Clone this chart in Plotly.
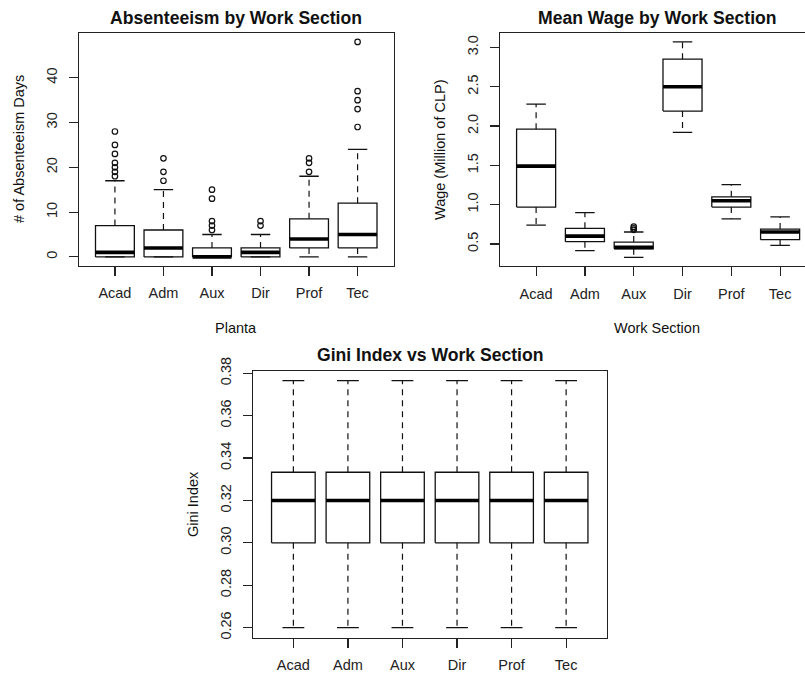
import plotly.graph_objects as go

# ---------------- data ----------------
categories = ["Acad", "Adm", "Aux", "Dir", "Prof", "Tec"]

abs_lower = [0, 0, 0, 0, 0, 0]
abs_q1 = [0, 0, 0, 0, 2, 2]
abs_median = [1, 2, 0, 1, 4, 5]
abs_q3 = [7, 6, 2, 2, 8.5, 12]
abs_upper = [17, 15, 5, 5, 18, 24]
abs_outliers = [[18, 19, 20, 21, 23, 25, 28], [17, 19, 22], [6, 7, 8, 13, 15],
                [7, 8], [19, 21, 22], [29, 33, 35, 37, 48]]
abs_ticks = [0, 10, 20, 30, 40]

wage_lower = [0.74, 0.415, 0.33, 1.92, 0.82, 0.483]
wage_q1 = [0.97, 0.53, 0.44, 2.19, 0.97, 0.555]
wage_median = [1.49, 0.60, 0.457, 2.50, 1.05, 0.653]
wage_q3 = [1.96, 0.70, 0.525, 2.85, 1.10, 0.69]
wage_upper = [2.28, 0.90, 0.653, 3.07, 1.255, 0.844]
wage_outliers = [[], [], [0.68, 0.70, 0.72], [], [], []]
wage_ticks = [0.5, 1.0, 1.5, 2.0, 2.5, 3.0]
wage_ticklabels = ["0.5", "1.0", "1.5", "2.0", "2.5", "3.0"]

gini_lower = [0.26, 0.26, 0.26, 0.26, 0.26, 0.26]
gini_q1 = [0.30, 0.30, 0.30, 0.30, 0.30, 0.30]
gini_median = [0.320, 0.320, 0.320, 0.320, 0.320, 0.320]
gini_q3 = [0.3333, 0.3333, 0.3333, 0.3333, 0.3333, 0.3333]
gini_upper = [0.3765, 0.3765, 0.3765, 0.3765, 0.3765, 0.3765]
gini_outliers = [[], [], [], [], [], []]
gini_ticks = [0.26, 0.28, 0.30, 0.32, 0.34, 0.36, 0.38]
gini_ticklabels = ["0.26", "0.28", "0.30", "0.32", "0.34", "0.36", "0.38"]

# ---------------- styling ----------------
W, H = 805, 673
FONT = "Liberation Sans, Arial, sans-serif"
INK = "#111111"
BOXW = 0.4      # half box width (boxwex 0.8)
STAPLE = 0.2    # half staple width
DASH = "6px,5px"

fig = go.Figure()


def add_boxplot(xa, ya, lower, q1, med, q3, upper, outliers):
    bx, by, mx, my, wx, wy, sx, sy, ox, oy = [], [], [], [], [], [], [], [], [], []
    for i in range(len(categories)):
        p = i + 1
        bx += [p - BOXW, p + BOXW, p + BOXW, p - BOXW, p - BOXW, None]
        by += [q1[i], q1[i], q3[i], q3[i], q1[i], None]
        mx += [p - BOXW, p + BOXW, None]
        my += [med[i], med[i], None]
        wx += [p, p, None, p, p, None]
        wy += [q3[i], upper[i], None, q1[i], lower[i], None]
        sx += [p - STAPLE, p + STAPLE, None, p - STAPLE, p + STAPLE, None]
        sy += [upper[i], upper[i], None, lower[i], lower[i], None]
        for v in outliers[i]:
            ox.append(p)
            oy.append(v)
    common = dict(xaxis=xa, yaxis=ya, showlegend=False, hoverinfo="skip")
    fig.add_trace(go.Scatter(x=wx, y=wy, mode="lines",
                             line=dict(color=INK, width=1.2, dash=DASH), **common))
    fig.add_trace(go.Scatter(x=sx, y=sy, mode="lines",
                             line=dict(color=INK, width=1.3), **common))
    fig.add_trace(go.Scatter(x=bx, y=by, mode="lines",
                             line=dict(color=INK, width=1.3), **common))
    fig.add_trace(go.Scatter(x=mx, y=my, mode="lines",
                             line=dict(color="#000000", width=3.6), **common))
    if ox:
        fig.add_trace(go.Scatter(x=ox, y=oy, mode="markers",
                                 marker=dict(symbol="circle-open", size=5.5,
                                             color=INK, line=dict(width=1.2)),
                                 **common))


add_boxplot("x", "y", abs_lower, abs_q1, abs_median, abs_q3, abs_upper, abs_outliers)
add_boxplot("x2", "y2", wage_lower, wage_q1, wage_median, wage_q3, wage_upper, wage_outliers)
add_boxplot("x3", "y3", gini_lower, gini_q1, gini_median, gini_q3, gini_upper, gini_outliers)


def yr(vals):
    lo = min(vals)
    hi = max(vals)
    pad = (hi - lo) * 0.04
    return [lo - pad, hi + pad]


abs_all = abs_lower + abs_upper + [v for o in abs_outliers for v in o]
wage_all = wage_lower + wage_upper + [v for o in wage_outliers for v in o]
gini_all = gini_lower + gini_upper

tickfont = dict(family=FONT, size=14.5, color="#222222")
axis_common = dict(showgrid=False, zeroline=False, showline=True, linecolor="#222222",
                   linewidth=1.2, ticks="outside", ticklen=9, tickwidth=1.2,
                   tickcolor="#222222", tickfont=tickfont, fixedrange=True,
                   automargin=False)

positions = list(range(1, len(categories) + 1))

# panel pixel boxes
p1 = dict(l=79, r=393.5, t=33.3, b=265.5)
p2 = dict(l=500, r=805, t=33.3, b=266)
p3 = dict(l=253, r=606.5, t=370.8, b=637.5)


def xd(p):
    return [p["l"] / W, min(p["r"] / W, 1.0)]


def ydm(p):
    return [1 - p["b"] / H, 1 - p["t"] / H]


# panel 2 is clipped on the right in the reference: full range would end at 6.74
p2_unit = (780 - 536) / 5.0
p2_right = 0.26 + (p2["r"] - p2["l"]) / p2_unit

XSO = 5   # x tick label standoff
YSO = 6   # y tick label standoff

fig.update_layout(
    width=W, height=H,
    margin=dict(l=0, r=0, t=0, b=0, autoexpand=False),
    paper_bgcolor="white", plot_bgcolor="white",
    font=dict(family=FONT, color="#222222"),
    xaxis=dict(domain=xd(p1), range=[0.26, 6.74], tickvals=positions, ticktext=categories,
               mirror=True, anchor="y", ticklabelstandoff=XSO, **axis_common),
    yaxis=dict(domain=ydm(p1), range=yr(abs_all), tickvals=abs_ticks, tickangle=-90,
               mirror=True, anchor="x", ticklabelstandoff=YSO, **axis_common),
    xaxis2=dict(domain=xd(p2), range=[0.26, p2_right], tickvals=positions, ticktext=categories,
                mirror=True, anchor="y2", ticklabelstandoff=XSO, **axis_common),
    yaxis2=dict(domain=ydm(p2), range=yr(wage_all), tickvals=wage_ticks,
                ticktext=wage_ticklabels, tickangle=-90, mirror=False, anchor="x2",
                ticklabelstandoff=YSO, **axis_common),
    xaxis3=dict(domain=xd(p3), range=[0.26, 6.74], tickvals=positions, ticktext=categories,
                mirror=True, anchor="y3", ticklabelstandoff=XSO, **axis_common),
    yaxis3=dict(domain=ydm(p3), range=yr(gini_all), tickvals=gini_ticks,
                ticktext=gini_ticklabels, tickangle=-90, mirror=True, anchor="x3",
                ticklabelstandoff=YSO, **axis_common),
)


def ann(text, x, y, size=14.5, bold=False, angle=0):
    fig.add_annotation(text=("<b>%s</b>" % text) if bold else text,
                       x=x / W, y=1 - y / H, xref="paper", yref="paper",
                       showarrow=False, textangle=angle, xanchor="center", yanchor="middle",
                       font=dict(family=FONT, size=size, color="#111111"))


ann("Absenteeism by Work Section", 236, 18, size=17.6, bold=True)
ann("Mean Wage by Work Section", 657, 18, size=17.6, bold=True)
ann("Gini Index vs Work Section", 430, 355, size=17.6, bold=True)
ann("# of Absenteeism Days", 19, 149, angle=-90)
ann("Planta", 236, 328)
ann("Wage (Million of CLP)", 440, 150, angle=-90)
ann("Work Section", 657, 328)
ann("Gini Index", 193, 504, angle=-90)

fig.write_html("out.html", config={"displayModeBar": False, "staticPlot": True},
               post_script="document.body.style.margin='0';document.body.style.overflow='hidden';")
